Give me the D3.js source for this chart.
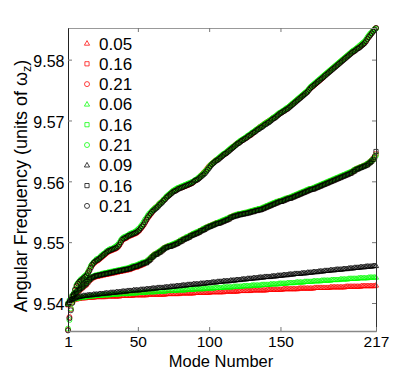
<!DOCTYPE html>
<html><head><meta charset="utf-8">
<script src="https://cdn.jsdelivr.net/npm/d3@7"></script>
<style>
html,body{margin:0;padding:0;background:#fff;}
text{font-family:"Liberation Sans",Arial,Helvetica,sans-serif;fill:#000;}
</style></head>
<body><svg id="c" width="415" height="372"></svg>
<script>
// Mode numbers 1..217
const modeNumbers = d3.range(1, 218);
const xTicks = [1, 50, 100, 150, 217];
const yTicks = [9.54, 9.55, 9.56, 9.57, 9.58];
const legendLabels = ["0.05","0.16","0.21","0.06","0.16","0.21","0.09","0.16","0.21"];

// red series
const redTri = [
9.5398,9.5401,9.5403,9.5404,9.5405,9.5406,9.5406,9.5407,9.5407,9.5408,
9.5408,9.5408,9.5408,9.5409,9.5409,9.5409,9.5409,9.5409,9.5409,9.5410,
9.5410,9.5410,9.5410,9.5410,9.5410,9.5410,9.5410,9.5411,9.5411,9.5411,
9.5411,9.5411,9.5411,9.5411,9.5411,9.5411,9.5411,9.5412,9.5412,9.5412,
9.5412,9.5412,9.5412,9.5412,9.5412,9.5412,9.5413,9.5413,9.5413,9.5413,
9.5413,9.5413,9.5413,9.5413,9.5413,9.5413,9.5414,9.5414,9.5414,9.5414,
9.5414,9.5414,9.5414,9.5414,9.5414,9.5414,9.5414,9.5414,9.5414,9.5415,
9.5415,9.5415,9.5415,9.5415,9.5415,9.5415,9.5415,9.5415,9.5415,9.5416,
9.5416,9.5416,9.5416,9.5416,9.5416,9.5416,9.5416,9.5416,9.5416,9.5417,
9.5417,9.5417,9.5417,9.5417,9.5417,9.5417,9.5417,9.5417,9.5417,9.5417,
9.5418,9.5418,9.5418,9.5418,9.5418,9.5418,9.5418,9.5418,9.5418,9.5418,
9.5419,9.5419,9.5419,9.5419,9.5419,9.5419,9.5419,9.5419,9.5419,9.5419,
9.5420,9.5420,9.5420,9.5420,9.5420,9.5420,9.5420,9.5420,9.5420,9.5421,
9.5421,9.5421,9.5421,9.5421,9.5421,9.5421,9.5421,9.5421,9.5421,9.5421,
9.5422,9.5422,9.5422,9.5422,9.5422,9.5422,9.5422,9.5422,9.5422,9.5422,
9.5422,9.5423,9.5423,9.5423,9.5423,9.5423,9.5423,9.5423,9.5423,9.5423,
9.5423,9.5423,9.5424,9.5424,9.5424,9.5424,9.5424,9.5424,9.5424,9.5424,
9.5424,9.5424,9.5424,9.5425,9.5425,9.5425,9.5425,9.5425,9.5425,9.5425,
9.5425,9.5425,9.5425,9.5425,9.5426,9.5426,9.5426,9.5426,9.5426,9.5426,
9.5426,9.5426,9.5426,9.5426,9.5426,9.5427,9.5427,9.5427,9.5427,9.5427,
9.5427,9.5427,9.5427,9.5427,9.5427,9.5427,9.5428,9.5428,9.5428,9.5428,
9.5428,9.5428,9.5428,9.5428,9.5428,9.5428,9.5429];
const redSq = [
9.5397,9.5401,9.5405,9.5410,9.5413,9.5415,9.5417,9.5419,9.5421,9.5423,
9.5425,9.5427,9.5429,9.5431,9.5434,9.5437,9.5439,9.5441,9.5442,9.5443,
9.5444,9.5444,9.5445,9.5445,9.5446,9.5446,9.5447,9.5447,9.5448,9.5448,
9.5449,9.5449,9.5450,9.5450,9.5451,9.5451,9.5452,9.5452,9.5453,9.5453,
9.5454,9.5454,9.5455,9.5455,9.5456,9.5457,9.5458,9.5459,9.5459,9.5460,
9.5461,9.5462,9.5463,9.5464,9.5466,9.5467,9.5469,9.5471,9.5473,9.5476,
9.5478,9.5480,9.5481,9.5482,9.5484,9.5485,9.5487,9.5489,9.5491,9.5492,
9.5493,9.5494,9.5494,9.5495,9.5496,9.5497,9.5498,9.5499,9.5501,9.5502,
9.5503,9.5505,9.5506,9.5507,9.5508,9.5509,9.5511,9.5512,9.5513,9.5514,
9.5515,9.5516,9.5517,9.5519,9.5520,9.5521,9.5522,9.5524,9.5525,9.5526,
9.5527,9.5528,9.5529,9.5530,9.5531,9.5532,9.5532,9.5533,9.5534,9.5535,
9.5536,9.5537,9.5538,9.5539,9.5541,9.5542,9.5543,9.5544,9.5544,9.5545,
9.5546,9.5546,9.5547,9.5547,9.5548,9.5548,9.5549,9.5549,9.5550,9.5551,
9.5551,9.5552,9.5553,9.5553,9.5554,9.5554,9.5555,9.5556,9.5557,9.5558,
9.5559,9.5560,9.5561,9.5562,9.5563,9.5564,9.5565,9.5566,9.5567,9.5568,
9.5568,9.5569,9.5570,9.5571,9.5572,9.5573,9.5573,9.5574,9.5575,9.5576,
9.5577,9.5578,9.5579,9.5580,9.5581,9.5582,9.5583,9.5584,9.5585,9.5586,
9.5587,9.5588,9.5588,9.5589,9.5590,9.5591,9.5592,9.5593,9.5594,9.5595,
9.5596,9.5597,9.5598,9.5599,9.5600,9.5601,9.5602,9.5603,9.5604,9.5605,
9.5606,9.5607,9.5608,9.5609,9.5610,9.5611,9.5612,9.5613,9.5614,9.5615,
9.5617,9.5618,9.5620,9.5621,9.5622,9.5623,9.5624,9.5625,9.5626,9.5627,
9.5628,9.5630,9.5632,9.5634,9.5637,9.5640,9.5645];
const redCirc = [
9.5356,9.5377,9.5390,9.5401,9.5413,9.5421,9.5427,9.5431,9.5434,9.5436,
9.5438,9.5440,9.5442,9.5446,9.5450,9.5454,9.5459,9.5462,9.5465,9.5467,
9.5469,9.5470,9.5472,9.5474,9.5476,9.5478,9.5480,9.5482,9.5484,9.5485,
9.5486,9.5487,9.5488,9.5489,9.5490,9.5492,9.5495,9.5499,9.5503,9.5505,
9.5506,9.5507,9.5509,9.5510,9.5511,9.5512,9.5513,9.5514,9.5515,9.5517,
9.5519,9.5522,9.5525,9.5528,9.5532,9.5536,9.5540,9.5543,9.5546,9.5549,
9.5553,9.5556,9.5558,9.5560,9.5563,9.5565,9.5567,9.5569,9.5571,9.5574,
9.5576,9.5578,9.5580,9.5582,9.5584,9.5585,9.5586,9.5588,9.5589,9.5590,
9.5590,9.5591,9.5592,9.5593,9.5594,9.5595,9.5596,9.5597,9.5599,9.5601,
9.5602,9.5604,9.5606,9.5609,9.5611,9.5614,9.5616,9.5619,9.5622,9.5625,
9.5627,9.5629,9.5631,9.5633,9.5635,9.5636,9.5638,9.5640,9.5642,9.5644,
9.5645,9.5647,9.5649,9.5651,9.5653,9.5655,9.5657,9.5659,9.5661,9.5663,
9.5664,9.5666,9.5667,9.5669,9.5670,9.5672,9.5673,9.5675,9.5676,9.5678,
9.5680,9.5682,9.5684,9.5686,9.5688,9.5690,9.5691,9.5693,9.5695,9.5696,
9.5698,9.5699,9.5701,9.5702,9.5704,9.5705,9.5707,9.5709,9.5711,9.5712,
9.5714,9.5715,9.5717,9.5718,9.5720,9.5722,9.5724,9.5726,9.5728,9.5730,
9.5732,9.5734,9.5736,9.5738,9.5740,9.5742,9.5744,9.5746,9.5748,9.5751,
9.5753,9.5755,9.5757,9.5759,9.5761,9.5763,9.5765,9.5767,9.5769,9.5771,
9.5774,9.5776,9.5778,9.5780,9.5782,9.5784,9.5786,9.5788,9.5790,9.5792,
9.5794,9.5796,9.5798,9.5800,9.5802,9.5804,9.5806,9.5808,9.5810,9.5812,
9.5813,9.5815,9.5817,9.5819,9.5820,9.5822,9.5824,9.5826,9.5828,9.5831,
9.5834,9.5838,9.5841,9.5844,9.5847,9.5850,9.5852];

// green series
const greenTri = [
9.5399,9.5402,9.5404,9.5405,9.5406,9.5407,9.5407,9.5408,9.5408,9.5409,
9.5409,9.5409,9.5410,9.5410,9.5410,9.5411,9.5411,9.5411,9.5411,9.5412,
9.5412,9.5412,9.5412,9.5412,9.5413,9.5413,9.5413,9.5413,9.5413,9.5413,
9.5414,9.5414,9.5414,9.5414,9.5414,9.5414,9.5415,9.5415,9.5415,9.5415,
9.5415,9.5415,9.5415,9.5416,9.5416,9.5416,9.5416,9.5416,9.5416,9.5417,
9.5417,9.5417,9.5417,9.5417,9.5417,9.5418,9.5418,9.5418,9.5418,9.5418,
9.5418,9.5418,9.5419,9.5419,9.5419,9.5419,9.5419,9.5419,9.5419,9.5420,
9.5420,9.5420,9.5420,9.5420,9.5420,9.5420,9.5421,9.5421,9.5421,9.5421,
9.5421,9.5421,9.5421,9.5422,9.5422,9.5422,9.5422,9.5422,9.5422,9.5423,
9.5423,9.5423,9.5423,9.5423,9.5423,9.5423,9.5424,9.5424,9.5424,9.5424,
9.5424,9.5424,9.5424,9.5425,9.5425,9.5425,9.5425,9.5425,9.5425,9.5426,
9.5426,9.5426,9.5426,9.5426,9.5426,9.5426,9.5427,9.5427,9.5427,9.5427,
9.5427,9.5427,9.5427,9.5428,9.5428,9.5428,9.5428,9.5428,9.5428,9.5429,
9.5429,9.5429,9.5429,9.5429,9.5429,9.5429,9.5430,9.5430,9.5430,9.5430,
9.5430,9.5430,9.5431,9.5431,9.5431,9.5431,9.5431,9.5431,9.5432,9.5432,
9.5432,9.5432,9.5432,9.5432,9.5433,9.5433,9.5433,9.5433,9.5433,9.5433,
9.5434,9.5434,9.5434,9.5434,9.5434,9.5434,9.5435,9.5435,9.5435,9.5435,
9.5435,9.5435,9.5436,9.5436,9.5436,9.5436,9.5436,9.5436,9.5437,9.5437,
9.5437,9.5437,9.5437,9.5437,9.5437,9.5438,9.5438,9.5438,9.5438,9.5438,
9.5438,9.5439,9.5439,9.5439,9.5439,9.5439,9.5439,9.5440,9.5440,9.5440,
9.5440,9.5440,9.5440,9.5440,9.5441,9.5441,9.5441,9.5441,9.5441,9.5441,
9.5441,9.5442,9.5442,9.5442,9.5442,9.5442,9.5442];
const greenSq = [
9.5399,9.5404,9.5408,9.5412,9.5415,9.5417,9.5419,9.5421,9.5423,9.5425,
9.5427,9.5429,9.5432,9.5434,9.5437,9.5439,9.5441,9.5443,9.5444,9.5445,
9.5446,9.5446,9.5447,9.5447,9.5448,9.5449,9.5449,9.5450,9.5450,9.5451,
9.5451,9.5452,9.5452,9.5453,9.5453,9.5454,9.5454,9.5455,9.5455,9.5456,
9.5456,9.5457,9.5457,9.5458,9.5459,9.5460,9.5461,9.5461,9.5462,9.5463,
9.5464,9.5465,9.5466,9.5467,9.5467,9.5468,9.5470,9.5472,9.5474,9.5476,
9.5478,9.5480,9.5481,9.5483,9.5484,9.5486,9.5488,9.5489,9.5491,9.5492,
9.5493,9.5494,9.5495,9.5496,9.5497,9.5498,9.5499,9.5500,9.5501,9.5503,
9.5504,9.5505,9.5506,9.5508,9.5509,9.5510,9.5511,9.5512,9.5514,9.5515,
9.5516,9.5517,9.5518,9.5519,9.5520,9.5522,9.5523,9.5524,9.5525,9.5526,
9.5527,9.5528,9.5529,9.5530,9.5531,9.5532,9.5533,9.5534,9.5535,9.5536,
9.5537,9.5538,9.5539,9.5540,9.5541,9.5542,9.5543,9.5544,9.5545,9.5546,
9.5546,9.5547,9.5547,9.5548,9.5548,9.5549,9.5549,9.5550,9.5551,9.5551,
9.5552,9.5553,9.5553,9.5554,9.5555,9.5555,9.5556,9.5557,9.5558,9.5559,
9.5560,9.5561,9.5562,9.5563,9.5564,9.5565,9.5566,9.5567,9.5567,9.5568,
9.5569,9.5570,9.5571,9.5572,9.5572,9.5573,9.5574,9.5575,9.5576,9.5577,
9.5578,9.5579,9.5580,9.5581,9.5582,9.5583,9.5584,9.5585,9.5586,9.5587,
9.5588,9.5588,9.5589,9.5590,9.5591,9.5592,9.5593,9.5594,9.5595,9.5596,
9.5597,9.5598,9.5599,9.5600,9.5601,9.5602,9.5603,9.5604,9.5605,9.5606,
9.5607,9.5608,9.5609,9.5610,9.5611,9.5612,9.5613,9.5614,9.5615,9.5616,
9.5617,9.5619,9.5620,9.5621,9.5622,9.5623,9.5624,9.5625,9.5626,9.5627,
9.5629,9.5630,9.5632,9.5634,9.5636,9.5639,9.5643];
const greenCirc = [
9.5358,9.5372,9.5391,9.5402,9.5414,9.5423,9.5430,9.5433,9.5436,9.5439,
9.5440,9.5443,9.5445,9.5447,9.5451,9.5456,9.5461,9.5464,9.5467,9.5469,
9.5472,9.5473,9.5474,9.5477,9.5479,9.5481,9.5482,9.5485,9.5486,9.5488,
9.5489,9.5489,9.5491,9.5492,9.5494,9.5496,9.5499,9.5503,9.5506,9.5508,
9.5509,9.5510,9.5511,9.5513,9.5514,9.5515,9.5516,9.5517,9.5519,9.5521,
9.5523,9.5526,9.5529,9.5533,9.5537,9.5540,9.5544,9.5547,9.5549,9.5552,
9.5554,9.5556,9.5558,9.5560,9.5563,9.5565,9.5567,9.5570,9.5572,9.5575,
9.5577,9.5579,9.5581,9.5583,9.5585,9.5586,9.5588,9.5589,9.5590,9.5591,
9.5592,9.5593,9.5594,9.5595,9.5596,9.5597,9.5598,9.5599,9.5600,9.5602,
9.5603,9.5605,9.5607,9.5609,9.5611,9.5613,9.5616,9.5618,9.5621,9.5624,
9.5627,9.5629,9.5631,9.5633,9.5635,9.5637,9.5639,9.5641,9.5643,9.5645,
9.5646,9.5648,9.5650,9.5652,9.5654,9.5656,9.5657,9.5659,9.5661,9.5663,
9.5665,9.5667,9.5668,9.5670,9.5671,9.5673,9.5675,9.5676,9.5678,9.5680,
9.5681,9.5683,9.5685,9.5686,9.5688,9.5690,9.5691,9.5693,9.5695,9.5696,
9.5698,9.5699,9.5701,9.5703,9.5705,9.5706,9.5708,9.5710,9.5712,9.5713,
9.5715,9.5716,9.5718,9.5720,9.5721,9.5723,9.5725,9.5727,9.5729,9.5731,
9.5733,9.5735,9.5737,9.5739,9.5741,9.5743,9.5745,9.5747,9.5749,9.5752,
9.5755,9.5757,9.5759,9.5761,9.5763,9.5765,9.5767,9.5769,9.5771,9.5773,
9.5775,9.5777,9.5779,9.5781,9.5783,9.5785,9.5787,9.5789,9.5791,9.5793,
9.5795,9.5797,9.5799,9.5801,9.5803,9.5805,9.5807,9.5809,9.5811,9.5813,
9.5815,9.5816,9.5818,9.5820,9.5822,9.5824,9.5826,9.5828,9.5830,9.5833,
9.5837,9.5840,9.5843,9.5845,9.5848,9.5850,9.5851];

// black series
const blackTri = [
9.5400,9.5403,9.5405,9.5406,9.5407,9.5408,9.5409,9.5410,9.5410,9.5411,
9.5411,9.5412,9.5412,9.5412,9.5413,9.5413,9.5413,9.5413,9.5414,9.5414,
9.5414,9.5414,9.5415,9.5415,9.5415,9.5415,9.5416,9.5416,9.5416,9.5416,
9.5417,9.5417,9.5417,9.5417,9.5418,9.5418,9.5418,9.5418,9.5419,9.5419,
9.5419,9.5419,9.5420,9.5420,9.5420,9.5420,9.5421,9.5421,9.5421,9.5421,
9.5421,9.5422,9.5422,9.5422,9.5422,9.5423,9.5423,9.5423,9.5423,9.5424,
9.5424,9.5424,9.5424,9.5425,9.5425,9.5425,9.5425,9.5425,9.5426,9.5426,
9.5426,9.5426,9.5427,9.5427,9.5427,9.5427,9.5428,9.5428,9.5428,9.5428,
9.5429,9.5429,9.5429,9.5429,9.5430,9.5430,9.5430,9.5430,9.5431,9.5431,
9.5431,9.5431,9.5431,9.5432,9.5432,9.5432,9.5432,9.5433,9.5433,9.5433,
9.5433,9.5434,9.5434,9.5434,9.5434,9.5435,9.5435,9.5435,9.5435,9.5436,
9.5436,9.5436,9.5436,9.5436,9.5437,9.5437,9.5437,9.5437,9.5438,9.5438,
9.5438,9.5438,9.5439,9.5439,9.5439,9.5439,9.5440,9.5440,9.5440,9.5440,
9.5441,9.5441,9.5441,9.5441,9.5442,9.5442,9.5442,9.5442,9.5443,9.5443,
9.5443,9.5443,9.5443,9.5444,9.5444,9.5444,9.5444,9.5445,9.5445,9.5445,
9.5445,9.5446,9.5446,9.5446,9.5446,9.5447,9.5447,9.5447,9.5447,9.5448,
9.5448,9.5448,9.5448,9.5448,9.5449,9.5449,9.5449,9.5449,9.5450,9.5450,
9.5450,9.5450,9.5451,9.5451,9.5451,9.5451,9.5452,9.5452,9.5452,9.5452,
9.5453,9.5453,9.5453,9.5453,9.5454,9.5454,9.5454,9.5454,9.5455,9.5455,
9.5455,9.5455,9.5455,9.5456,9.5456,9.5456,9.5456,9.5457,9.5457,9.5457,
9.5457,9.5458,9.5458,9.5458,9.5458,9.5459,9.5459,9.5459,9.5459,9.5460,
9.5460,9.5460,9.5460,9.5460,9.5461,9.5461,9.5461];
const blackSq = [
9.5398,9.5402,9.5406,9.5411,9.5414,9.5416,9.5418,9.5420,9.5422,9.5424,
9.5426,9.5428,9.5430,9.5432,9.5435,9.5438,9.5440,9.5442,9.5443,9.5444,
9.5445,9.5445,9.5446,9.5446,9.5447,9.5447,9.5448,9.5448,9.5449,9.5449,
9.5450,9.5450,9.5451,9.5451,9.5452,9.5452,9.5453,9.5453,9.5454,9.5454,
9.5455,9.5455,9.5456,9.5456,9.5457,9.5458,9.5459,9.5460,9.5460,9.5461,
9.5462,9.5463,9.5464,9.5465,9.5466,9.5466,9.5468,9.5470,9.5472,9.5475,
9.5477,9.5479,9.5480,9.5481,9.5483,9.5484,9.5486,9.5488,9.5490,9.5491,
9.5492,9.5493,9.5493,9.5494,9.5495,9.5496,9.5497,9.5498,9.5500,9.5501,
9.5502,9.5504,9.5505,9.5506,9.5507,9.5508,9.5510,9.5511,9.5512,9.5513,
9.5514,9.5515,9.5516,9.5518,9.5519,9.5520,9.5521,9.5523,9.5524,9.5525,
9.5526,9.5527,9.5528,9.5529,9.5530,9.5531,9.5531,9.5532,9.5533,9.5534,
9.5535,9.5536,9.5537,9.5538,9.5540,9.5541,9.5542,9.5543,9.5543,9.5544,
9.5545,9.5545,9.5546,9.5546,9.5547,9.5547,9.5548,9.5548,9.5549,9.5550,
9.5550,9.5551,9.5552,9.5552,9.5553,9.5553,9.5554,9.5555,9.5556,9.5557,
9.5558,9.5559,9.5560,9.5561,9.5562,9.5563,9.5564,9.5565,9.5566,9.5567,
9.5567,9.5568,9.5569,9.5570,9.5571,9.5572,9.5572,9.5573,9.5574,9.5575,
9.5576,9.5577,9.5578,9.5579,9.5580,9.5581,9.5582,9.5583,9.5584,9.5585,
9.5586,9.5587,9.5587,9.5588,9.5589,9.5590,9.5591,9.5592,9.5593,9.5594,
9.5595,9.5596,9.5597,9.5598,9.5599,9.5600,9.5601,9.5602,9.5603,9.5604,
9.5605,9.5606,9.5607,9.5608,9.5609,9.5610,9.5611,9.5612,9.5613,9.5614,
9.5616,9.5617,9.5619,9.5620,9.5621,9.5622,9.5623,9.5624,9.5625,9.5626,
9.5627,9.5629,9.5631,9.5633,9.5636,9.5640,9.5649];
const blackCirc = [
9.5355,9.5375,9.5388,9.5400,9.5412,9.5422,9.5428,9.5432,9.5435,9.5437,
9.5439,9.5441,9.5443,9.5445,9.5449,9.5453,9.5458,9.5463,9.5466,9.5468,
9.5470,9.5471,9.5473,9.5475,9.5477,9.5479,9.5481,9.5483,9.5485,9.5486,
9.5487,9.5488,9.5489,9.5490,9.5491,9.5493,9.5496,9.5500,9.5504,9.5506,
9.5507,9.5508,9.5510,9.5511,9.5512,9.5513,9.5514,9.5515,9.5516,9.5518,
9.5520,9.5523,9.5526,9.5529,9.5533,9.5537,9.5541,9.5544,9.5547,9.5550,
9.5552,9.5554,9.5556,9.5558,9.5561,9.5563,9.5565,9.5568,9.5570,9.5573,
9.5575,9.5577,9.5579,9.5581,9.5583,9.5584,9.5585,9.5587,9.5588,9.5589,
9.5590,9.5591,9.5592,9.5593,9.5594,9.5595,9.5596,9.5597,9.5599,9.5601,
9.5602,9.5603,9.5605,9.5607,9.5609,9.5611,9.5613,9.5616,9.5619,9.5622,
9.5625,9.5628,9.5630,9.5632,9.5634,9.5635,9.5637,9.5639,9.5641,9.5643,
9.5645,9.5646,9.5648,9.5650,9.5652,9.5654,9.5656,9.5658,9.5660,9.5662,
9.5663,9.5665,9.5667,9.5668,9.5670,9.5671,9.5673,9.5675,9.5676,9.5678,
9.5680,9.5681,9.5683,9.5685,9.5686,9.5688,9.5689,9.5691,9.5693,9.5694,
9.5696,9.5697,9.5699,9.5701,9.5703,9.5704,9.5706,9.5708,9.5710,9.5712,
9.5713,9.5715,9.5716,9.5718,9.5719,9.5721,9.5723,9.5725,9.5727,9.5729,
9.5731,9.5733,9.5735,9.5737,9.5739,9.5741,9.5743,9.5745,9.5747,9.5750,
9.5753,9.5755,9.5757,9.5759,9.5761,9.5763,9.5765,9.5767,9.5769,9.5771,
9.5773,9.5775,9.5777,9.5779,9.5781,9.5783,9.5785,9.5787,9.5789,9.5791,
9.5793,9.5795,9.5797,9.5799,9.5801,9.5803,9.5805,9.5807,9.5809,9.5811,
9.5813,9.5814,9.5816,9.5818,9.5819,9.5821,9.5823,9.5825,9.5827,9.5830,
9.5834,9.5837,9.5840,9.5843,9.5846,9.5849,9.5852];

const series = [
  {label: legendLabels[0], color: "#ff0000", shape: "tri", values: redTri},
  {label: legendLabels[1], color: "#ff0000", shape: "sq",  values: redSq},
  {label: legendLabels[2], color: "#ff0000", shape: "circ", values: redCirc},
  {label: legendLabels[3], color: "#00ff00", shape: "tri", values: greenTri},
  {label: legendLabels[4], color: "#00ff00", shape: "sq",  values: greenSq},
  {label: legendLabels[5], color: "#00ff00", shape: "circ", values: greenCirc},
  {label: legendLabels[6], color: "#000000", shape: "tri", values: blackTri},
  {label: legendLabels[7], color: "#000000", shape: "sq",  values: blackSq},
  {label: legendLabels[8], color: "#000000", shape: "circ", values: blackCirc}
];

const svg = d3.select("#c");
const L = 68, R = 376, T = 28, B = 331;
const x = d3.scaleLinear().domain([1, 217]).range([L, R]);
const y = d3.scaleLinear().domain([9.5354, 9.5852]).range([B, T]);

function shapePath(shape) {
  if (shape === "tri") return "M0,-2.9L2.6,1.7L-2.6,1.7Z";
  if (shape === "sq") return "M-2.1,-2.1H2.1V2.1H-2.1Z";
  return "M2.5,0A2.5,2.5 0 1,1 -2.5,0A2.5,2.5 0 1,1 2.5,0Z";
}

// data markers
const plot = svg.append("g");
series.forEach(s => {
  plot.append("g")
    .selectAll("path")
    .data(s.values)
    .join("path")
    .attr("transform", (d, i) => `translate(${x(modeNumbers[i])},${y(d)})`)
    .attr("d", shapePath(s.shape))
    .attr("fill", "none")
    .attr("stroke", s.color)
    .attr("stroke-width", 0.75);
});

// axes (MATLAB-like box with inward ticks)
const axBottom = d3.axisBottom(x).tickValues(xTicks).tickSizeInner(-4).tickSizeOuter(0).tickPadding(5).tickFormat(d3.format("d"));
const axTop = d3.axisTop(x).tickValues(xTicks).tickSizeInner(-4).tickSizeOuter(0).tickFormat("");
const axLeft = d3.axisLeft(y).tickValues(yTicks).tickSizeInner(-4).tickSizeOuter(0).tickPadding(3.5).tickFormat(d3.format(".2f"));
const axRight = d3.axisRight(y).tickValues(yTicks).tickSizeInner(-4).tickSizeOuter(0).tickFormat("");

function styleAxis(g, lineColor, width, fs) {
  g.select(".domain").attr("stroke", lineColor).attr("stroke-width", width);
  g.selectAll(".tick line").attr("stroke", "#777").attr("stroke-width", 1);
  g.selectAll(".tick text").attr("font-size", fs).attr("fill", "#000")
    .attr("font-family", '"Liberation Sans",Arial,sans-serif');
}
svg.append("g").attr("transform", `translate(0,${T})`).call(axTop).call(g => styleAxis(g, "#999", 1, 16));
svg.append("g").attr("transform", `translate(${R},0)`).call(axRight).call(g => styleAxis(g, "#333", 1, 16));
svg.append("g").attr("transform", `translate(0,${B})`).call(axBottom).call(g => styleAxis(g, "#888", 1.6, 15.5));
svg.append("g").attr("transform", `translate(${L},0)`).call(axLeft).call(g => styleAxis(g, "#222", 1, 16))
  .selectAll(".tick text").attr("dy", "0.42em");

// legend
const lg = svg.append("g");
series.forEach((s, i) => {
  const cy = 43.5 + i * 20.3;
  lg.append("path")
    .attr("transform", `translate(87,${cy})`)
    .attr("d", shapePath(s.shape))
    .attr("fill", "none").attr("stroke", s.color).attr("stroke-width", 0.75);
  lg.append("text").attr("x", 99).attr("y", cy + 6)
    .attr("font-size", 17).text(s.label);
});

// axis titles
svg.append("text").attr("x", 221).attr("y", 366.5)
  .attr("text-anchor", "middle").attr("font-size", 16.5).text("Mode Number");
const yl = svg.append("text")
  .attr("transform", "translate(27,186) rotate(-90)")
  .attr("text-anchor", "middle").attr("font-size", 18);
yl.append("tspan").text("Angular Frequency (units of ω");
yl.append("tspan").attr("font-size", 12.5).attr("dy", 4).text("z");
yl.append("tspan").attr("dy", -4).text(")");
</script>
</body></html>
